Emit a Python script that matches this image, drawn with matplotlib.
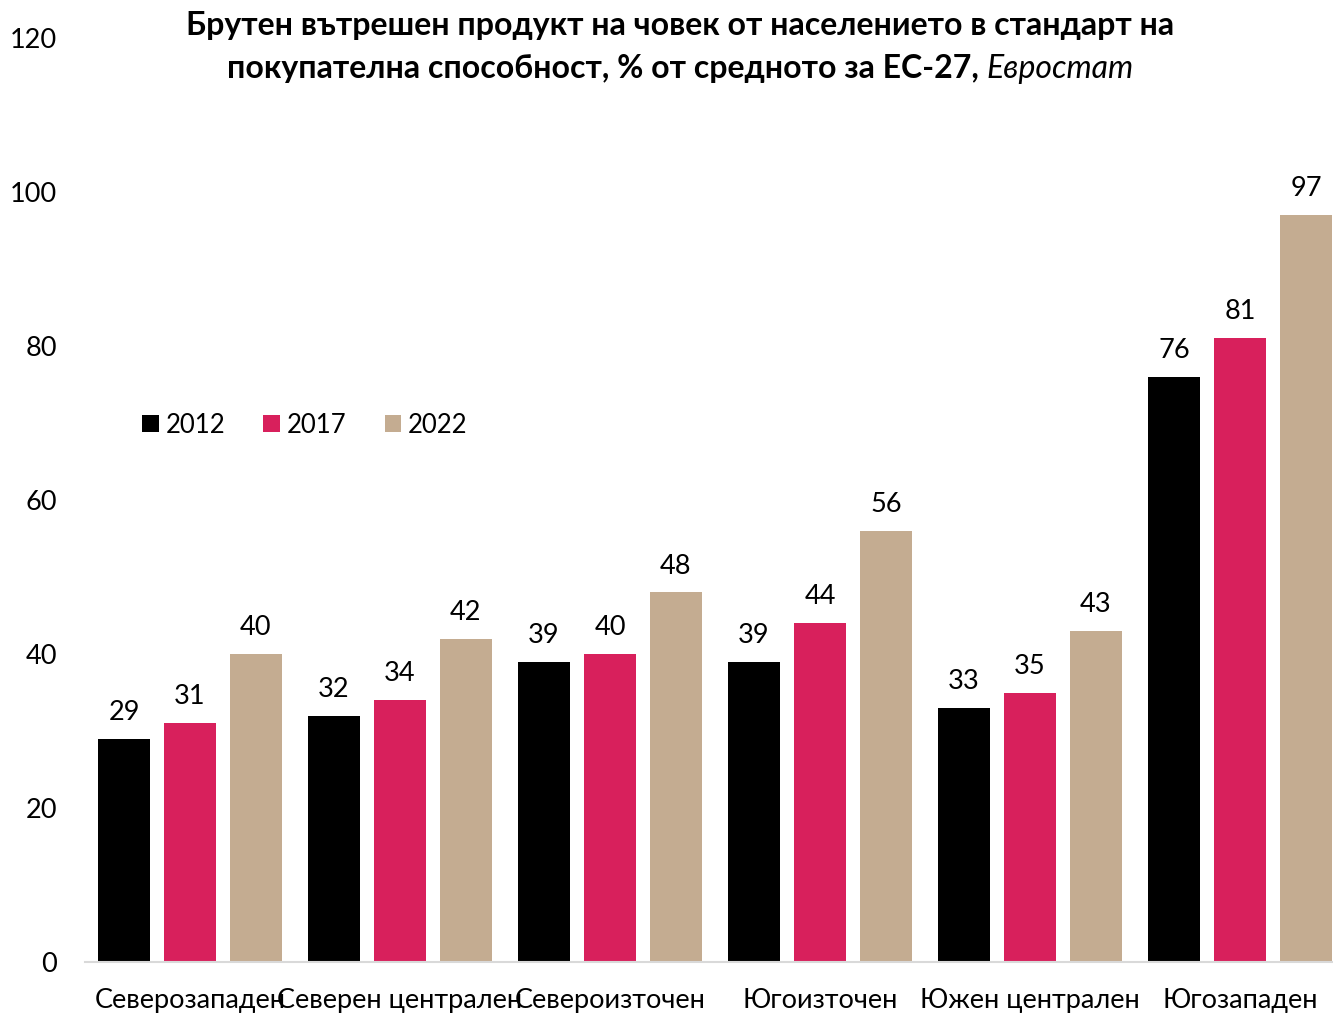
import numpy as np
import matplotlib
matplotlib.use('Agg')
import matplotlib.pyplot as plt

plt.rcParams['font.family'] = ['Lato', 'DejaVu Sans']

regions = ['Северозападен', 'Северен централен', 'Североизточен',
           'Югоизточен', 'Южен централен', 'Югозападен']
years = ['2012', '2017', '2022']
v2012 = [29, 32, 39, 39, 33, 76]
v2017 = [31, 34, 40, 44, 35, 81]
v2022 = [40, 42, 48, 56, 43, 97]
colors = ['#000000', '#D8205C', '#C4AC91']

fig = plt.figure(figsize=(13.33, 10.13), dpi=100)
ax = fig.add_axes([85 / 1333, 51 / 1013, 1260 / 1333, 924 / 1013])

x = np.arange(len(regions))
offsets = [-0.314, 0, 0.314]
for vals, yr, col, off in zip([v2012, v2017, v2022], years, colors, offsets):
    bars = ax.bar(x + off, vals, width=0.247, color=col, label=yr)
    for b, v in zip(bars, vals):
        ax.annotate(str(v), (b.get_x() + b.get_width() / 2, v),
                    xytext=(0, 10), textcoords='offset points',
                    ha='center', va='bottom', fontsize=19.5)

ax.set_xlim(-0.5, 5.5)
ax.set_ylim(0, 120)
ax.set_yticks(range(0, 121, 20))
ax.set_xticks(x)
ax.set_xticklabels(regions)
ax.tick_params(axis='both', length=0, labelsize=19.5)
ax.tick_params(axis='x', pad=19)
ax.tick_params(axis='y', pad=20)
for s in ['top', 'right', 'left']:
    ax.spines[s].set_visible(False)
ax.spines['bottom'].set_color('#D9D9D9')
ax.spines['bottom'].set_linewidth(1.5)

ax.legend(loc='center left', bbox_to_anchor=(0.027, 0.581), ncol=3,
          frameon=False, fontsize=18.5, handlelength=0.65, handleheight=0.65,
          handletextpad=0.25, columnspacing=1.5)

fig.text(0.51, 0.975, 'Брутен вътрешен продукт на човек от населението в стандарт на',
         ha='center', va='center', fontsize=23, fontweight='bold')
t1 = fig.text(0, 0.932, 'покупателна способност, % от средното за ЕС-27, ',
              va='center', fontsize=23, fontweight='bold')
t2 = fig.text(0, 0.932, 'Евростат', va='center', fontsize=23, style='italic')
fig.canvas.draw()
r = fig.canvas.get_renderer()
w1 = t1.get_window_extent(r).width
w2 = t2.get_window_extent(r).width
start = (680 - (w1 + w2) / 2) / 1333
t1.set_x(start)
t2.set_x(start + w1 / 1333)

fig.savefig('out.png', dpi=100)
